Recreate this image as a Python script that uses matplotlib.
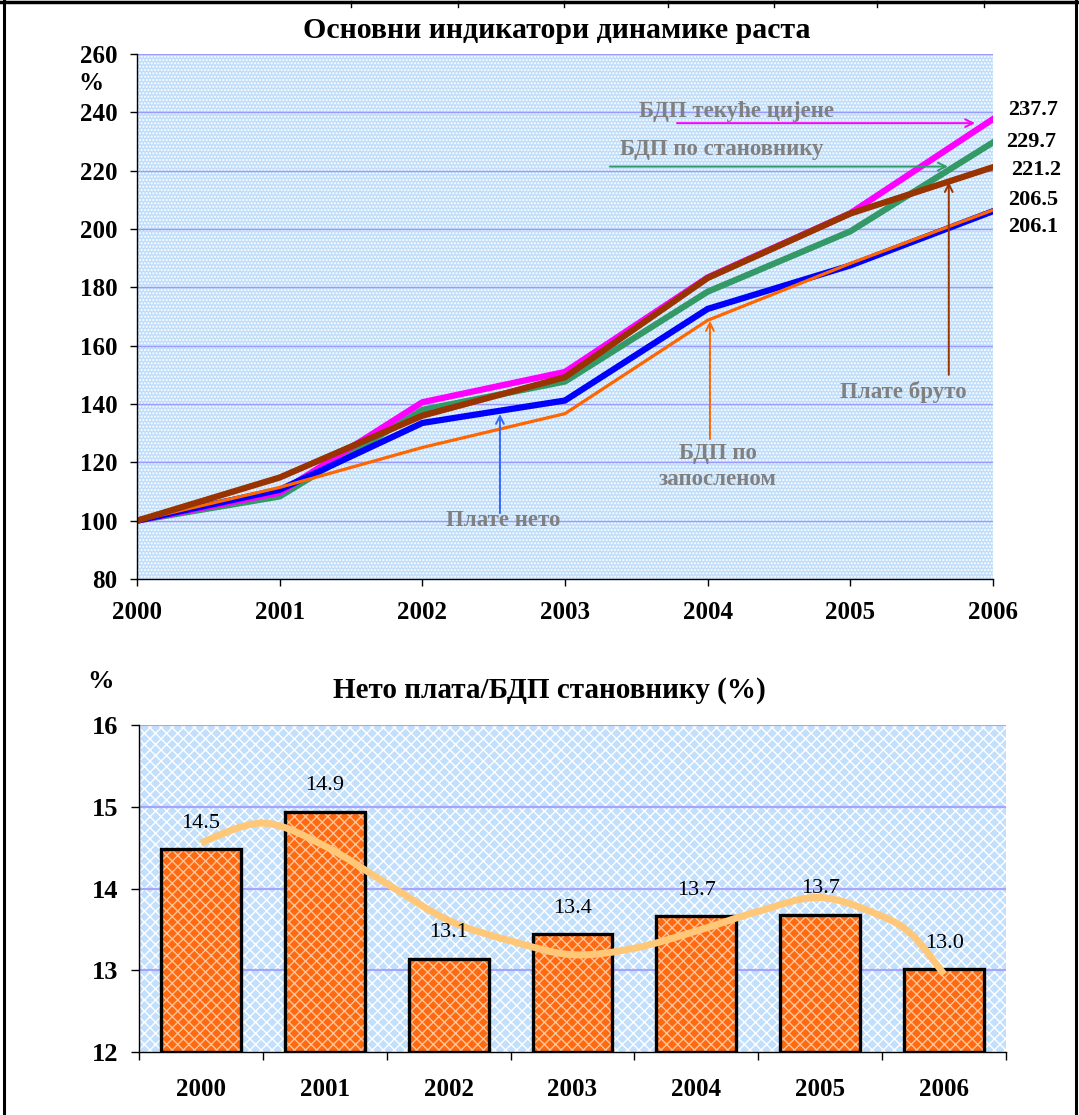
import matplotlib
matplotlib.use('Agg')
import matplotlib.pyplot as plt
from matplotlib.patches import Rectangle, PathPatch
from matplotlib.path import Path
from matplotlib.lines import Line2D

# ---------------- data ----------------
years = [2000, 2001, 2002, 2003, 2004, 2005, 2006]
gdp_current = [100, 109.6, 140.6, 151.0, 183.4, 205.4, 237.7]
gdp_per_capita = [100, 108.3, 138.0, 147.7, 178.5, 199.2, 229.7]
wages_gross = [100, 114.8, 136.0, 149.2, 183.2, 205.3, 221.2]
wages_net = [100, 110.6, 133.5, 141.2, 172.6, 187.5, 206.1]
gdp_per_employee = [100, 111.4, 125.1, 136.7, 168.7, 188.2, 206.5]

ratio_cats = ['2000', '2001', '2002', '2003', '2004', '2005', '2006']
ratio_values = [14.48, 14.94, 13.14, 13.44, 13.66, 13.68, 13.01]

# smoothed trend curve (category position, value)
trend_pos = [0, 0.5, 1, 1.5, 2, 2.5, 3, 3.5, 4, 4.5, 5, 5.5, 5.75, 6]
trend_val = [14.56, 14.80, 14.52, 14.06, 13.61, 13.36, 13.19, 13.27, 13.48,
             13.72, 13.89, 13.66, 13.42, 12.95]

W, H = 1079, 1115
SERIF = 'Liberation Serif'
GRAY = '#808080'

fig = plt.figure(figsize=(W / 100, H / 100), dpi=100)
fig.patch.set_facecolor('white')


def fx(px):
    return px / W


def fy(py):
    return 1 - py / H


# ---------------- top chart ----------------
ax = fig.add_axes([fx(137), fy(579), fx(993) - fx(137), fy(54) - fy(579)])
ax.set_xlim(2000, 2006)
ax.set_ylim(80, 260)
ax.set_facecolor('none')
bg = Rectangle((0, 0), 1, 1, transform=ax.transAxes, facecolor='#c0ddfa',
               edgecolor='white', hatch='.....', lw=0, zorder=0)
ax.add_patch(bg)
ax.set_yticks(range(80, 261, 20))
ax.set_xticks(years)
for yv in range(100, 261, 20):
    ax.axhline(yv, color='#9a9aff', lw=1.0, zorder=1)

ax.plot(years, gdp_per_capita, color='#339966', lw=4.5, zorder=3,
        solid_joinstyle='miter')
ax.plot(years, gdp_current, color='#ff00ff', lw=4.5, zorder=3.1,
        solid_joinstyle='miter')
ax.plot(years, wages_net, color='#0000ff', lw=4.5, zorder=3.2,
        solid_joinstyle='miter')
ax.plot(years, gdp_per_employee, color='#ff6600', lw=2.3, zorder=3.3,
        solid_joinstyle='miter')
ax.plot(years, wages_gross, color='#993300', lw=4.5, zorder=3.4,
        solid_joinstyle='miter')

for s in ['top', 'right']:
    ax.spines[s].set_visible(False)
for s in ['left', 'bottom']:
    ax.spines[s].set_color('black')
    ax.spines[s].set_linewidth(1.0)
    ax.spines[s].set_zorder(5)
ax.tick_params(axis='y', direction='out', length=5, width=1, pad=9,
               labelsize=18)
ax.tick_params(axis='x', direction='out', length=5, width=1, pad=11,
               labelsize=18)
for lab in ax.get_xticklabels() + ax.get_yticklabels():
    lab.set_family(SERIF)
    lab.set_fontweight('bold')

fig.text(fx(557), fy(30), 'Основни индикатори динамике раста', ha='center',
         va='center', family=SERIF, fontweight='bold', fontsize=21.5)
fig.text(fx(91), fy(83), '%', ha='center', va='center', family=SERIF,
         fontweight='bold', fontsize=18)

# end-value labels
end_series = [gdp_current, gdp_per_capita, wages_gross, gdp_per_employee,
              wages_net]
end_label_y = [240.8, 229.8, 220.2, 210.0, 200.7]
end_label_x = [2006.28, 2006.27, 2006.30, 2006.28, 2006.28]
for ser, ly, lx in zip(end_series, end_label_y, end_label_x):
    ax.text(lx, ly, f'{ser[-1]:.1f}', ha='center', va='center', family=SERIF,
            fontweight='bold', fontsize=16, clip_on=False)


def arrow(ax, start, end, color):
    ax.annotate('', xy=end, xytext=start,
                arrowprops=dict(arrowstyle='->', color=color, lw=1.4,
                                mutation_scale=14, shrinkA=0, shrinkB=0),
                zorder=6)


def note(ax, x, y, s):
    ax.text(x, y, s, ha='center', va='center', family=SERIF,
            fontweight='bold', fontsize=16.5, color=GRAY, zorder=6,
            linespacing=1.3)


arrow(ax, (2003.785, 236.3), (2005.874, 236.3), '#ff00ff')
note(ax, 2004.205, 240.4, 'БДП текуће цијене')
arrow(ax, (2003.315, 221.4), (2005.684, 221.4), '#339966')
note(ax, 2004.10, 227.1, 'БДП по становнику')
arrow(ax, (2005.69, 150.0), (2005.69, 216.1), '#993300')
note(ax, 2005.37, 144.1, 'Плате бруто')
arrow(ax, (2004.016, 128.0), (2004.016, 168.5), '#ff6600')
note(ax, 2004.07, 118.7, 'БДП по\nзапосленом')
arrow(ax, (2002.544, 102.6), (2002.544, 136.6), '#3366ff')
note(ax, 2002.565, 100.2, 'Плате нето')

# ---------------- bottom chart ----------------
bx = fig.add_axes([fx(139), fy(1052), fx(1006) - fx(139), fy(725) - fy(1052)])
n = len(ratio_cats)
pos = list(range(n))
bx.set_xlim(-0.5, n - 0.5)
bx.set_ylim(12, 16)
bx.set_facecolor('none')
bg2 = Rectangle((0, 0), 1, 1, transform=bx.transAxes, facecolor='#c2dffb',
                edgecolor='white', hatch='xxx', lw=0, zorder=0)
bx.add_patch(bg2)
for yv in [13, 14, 15, 16]:
    bx.axhline(yv, color='#a5a5ff', lw=1.6, zorder=1)

bw = 80 / 124
bx.bar(pos, [v - 12 for v in ratio_values], bottom=12, width=bw,
       color='#ff6a10', edgecolor='#ffc49a', hatch='xxx', lw=0, zorder=2)
bx.bar(pos, [v - 12 for v in ratio_values], bottom=12, width=bw,
       color='none', edgecolor='black', lw=2.4, zorder=3)
for p, v in zip(pos, ratio_values):
    bx.annotate(f'{v:.1f}', xy=(p, v), xytext=(0, 26),
                textcoords='offset pixels', ha='center', va='center',
                family=SERIF, fontsize=16, zorder=6)

# smoothed trend (Catmull-Rom Bezier through the read points)
pts = list(zip(trend_pos, trend_val))
verts = [pts[0]]
codes = [Path.MOVETO]
for i in range(len(pts) - 1):
    p0 = pts[i - 1] if i > 0 else pts[i]
    p1 = pts[i]
    p2 = pts[i + 1]
    p3 = pts[i + 2] if i + 2 < len(pts) else pts[i + 1]
    c1 = (p1[0] + (p2[0] - p0[0]) / 6, p1[1] + (p2[1] - p0[1]) / 6)
    c2 = (p2[0] - (p3[0] - p1[0]) / 6, p2[1] - (p3[1] - p1[1]) / 6)
    verts += [c1, c2, p2]
    codes += [Path.CURVE4] * 3
bx.add_patch(PathPatch(Path(verts, codes), facecolor='none',
                       edgecolor='#ffc878', lw=5, zorder=4,
                       capstyle='butt'))

for s in ['top', 'right']:
    bx.spines[s].set_visible(False)
for s in ['left', 'bottom']:
    bx.spines[s].set_color('black')
    bx.spines[s].set_linewidth(1.0)
    bx.spines[s].set_zorder(5)
bx.set_yticks([12, 13, 14, 15, 16])
bx.set_xticks(pos)
bx.set_xticklabels(ratio_cats)
bx.set_xticks([p - 0.5 for p in pos] + [n - 0.5], minor=True)
bx.tick_params(axis='x', which='major', length=0, pad=19, labelsize=18)
bx.tick_params(axis='x', which='minor', direction='out', length=6, width=1)
bx.tick_params(axis='y', direction='out', length=6, width=1, pad=9,
               labelsize=19)
for lab in bx.get_xticklabels() + bx.get_yticklabels():
    lab.set_family(SERIF)
    lab.set_fontweight('bold')

fig.text(fx(549), fy(690), 'Нето плата/БДП становнику (%)', ha='center',
         va='center', family=SERIF, fontweight='bold', fontsize=21)
fig.text(fx(101), fy(682), '%', ha='center', va='center', family=SERIF,
         fontweight='bold', fontsize=19)

# ---------------- outer frame ----------------
fig.add_artist(Line2D([fx(4), fx(4)], [0, 1], color='black', lw=2.2,
                      transform=fig.transFigure))
fig.add_artist(Line2D([fx(1076), fx(1076)], [0, 1], color='black', lw=2.2,
                      transform=fig.transFigure))
fig.add_artist(Line2D([0, 1], [fy(1.5), fy(1.5)], color='black', lw=2.5,
                      transform=fig.transFigure))
for tx in [351, 458, 564, 668, 774, 877, 984]:
    fig.add_artist(Line2D([fx(tx), fx(tx)], [fy(1), fy(7)], color='black',
                          lw=1, transform=fig.transFigure))

fig.savefig('out.png', dpi=100, facecolor='white')
